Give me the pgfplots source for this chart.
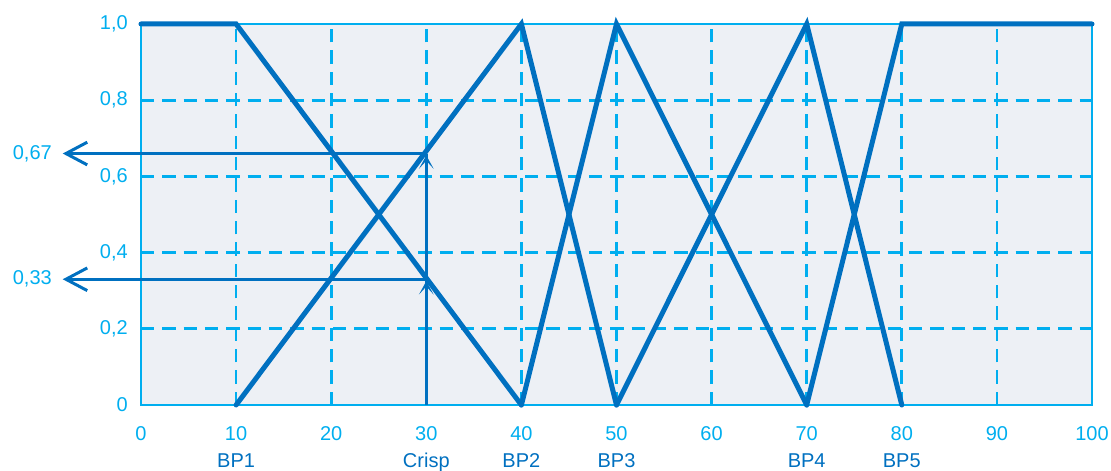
\documentclass[border=0pt]{standalone}
\usepackage{fontspec}
\setmainfont{Liberation Sans}
\usepackage{pgfplots}
\pgfplotsset{compat=1.18}
\usetikzlibrary{arrows.meta}
\definecolor{lb}{HTML}{00AEEF}
\definecolor{db}{HTML}{0070C0}
\definecolor{bg}{HTML}{EDF0F5}
\tikzset{bplab/.style={anchor=base, inner sep=0pt, text=db, font=\fontsize{15}{18}\selectfont, yshift=-46.5pt}}
\begin{document}
\begin{tikzpicture}
\useasboundingbox (-105.75pt,-49.5pt) rectangle (727.5pt,303.75pt);
\begin{axis}[
  at={(0,0)}, anchor=south west,
  scale only axis, width=713.25pt, height=285.75pt,
  xmin=0, xmax=100, ymin=0, ymax=1,
  clip=false,
  axis background/.style={fill=bg},
  axis line style={lb, line width=1.5pt},
  xtick={0,10,20,30,40,50,60,70,80,90,100},
  ytick={0,0.2,0.4,0.6,0.8,1},
  yticklabels={0,{0,2},{0,4},{0,6},{0,8},{1,0}},
  /pgf/number format/assume math mode=true,
  grid=major,
  major grid style={lb, line width=2pt, dash pattern=on 10pt off 6pt},
  major tick length=0pt,
  tick label style={font=\fontsize{15}{18}\selectfont, text=lb, inner sep=0pt},
  xticklabel style={anchor=base, yshift=-27pt},
  yticklabel style={anchor=east, xshift=-9.75pt},
]
\addplot[db, line width=3.75pt, line cap=round] coordinates {(0,1) (10,1) (40,0)};
\addplot[db, line width=3.75pt, line cap=round] coordinates {(10,0) (40,1) (50,0)};
\addplot[db, line width=3.75pt, line cap=round] coordinates {(40,0) (50,1) (70,0)};
\addplot[db, line width=3.75pt, line cap=round] coordinates {(50,0) (70,1) (80,0)};
\addplot[db, line width=3.75pt, line cap=round] coordinates {(70,0) (80,1) (100,1)};
\addplot[db, line width=2.25pt] coordinates {(30,0) (30,0.66)};
\draw[db, line width=1.5pt, -{Stealth[length=10pt,width=11pt,inset=6pt]}] (axis cs:30,0.24) -- (axis cs:30,0.325);
\draw[db, line width=1.5pt, -{Stealth[length=10pt,width=11pt,inset=6pt]}] (axis cs:30,0.57) -- (axis cs:30,0.655);
\draw[db, line width=2.25pt, -{Straight Barb[length=16pt,width=17pt]}] (axis cs:30,0.66) -- (axis cs:-8.23,0.66);
\draw[db, line width=2.25pt, -{Straight Barb[length=16pt,width=17pt]}] (axis cs:30,0.33) -- (axis cs:-8.23,0.33);
\node[anchor=east, inner sep=0pt, text=lb, font=\fontsize{15}{18}\selectfont] at (axis cs:-8.23,0.66) [xshift=-8pt] {0,67};
\node[anchor=east, inner sep=0pt, text=lb, font=\fontsize{15}{18}\selectfont] at (axis cs:-8.23,0.33) [xshift=-8pt] {0,33};
\node[bplab] at (axis cs:10,0) {BP1};
\node[bplab] at (axis cs:30,0) {Crisp};
\node[bplab] at (axis cs:40,0) {BP2};
\node[bplab] at (axis cs:50,0) {BP3};
\node[bplab] at (axis cs:70,0) {BP4};
\node[bplab] at (axis cs:80,0) {BP5};
\end{axis}
\end{tikzpicture}
\end{document}
